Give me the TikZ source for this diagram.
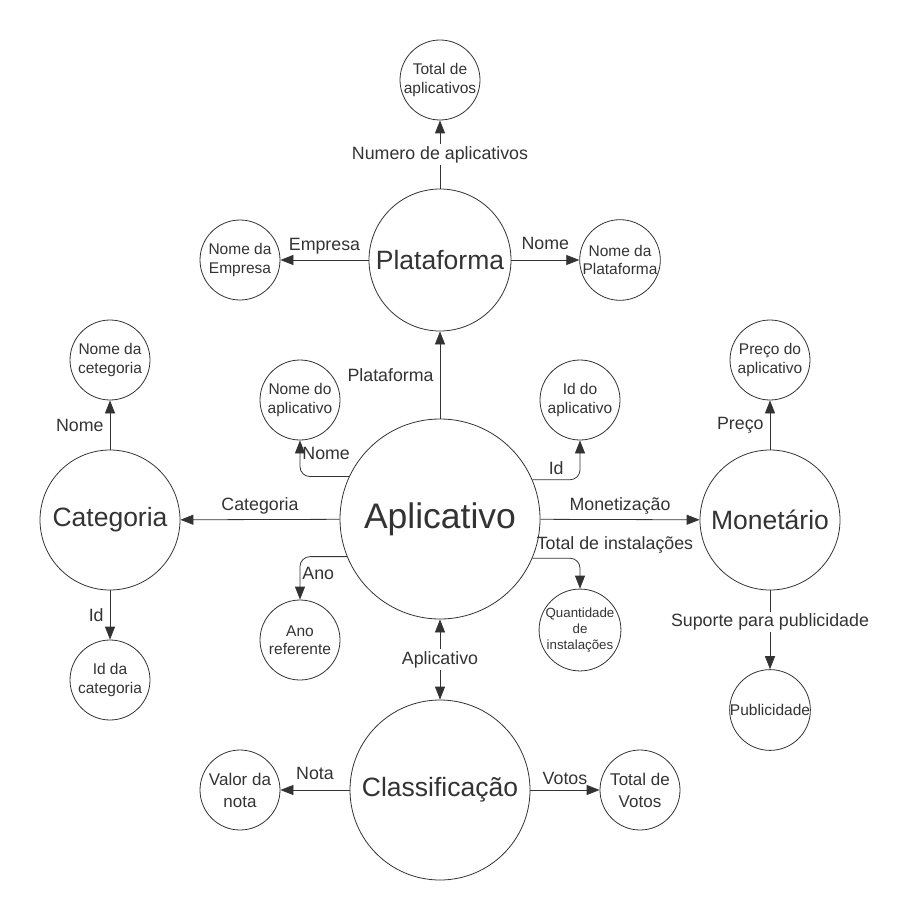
\documentclass[tikz,border=0pt]{standalone}
\usepackage{fontspec}
\setmainfont{Liberation Sans}
\usetikzlibrary{arrows.meta,positioning}
\definecolor{traco}{HTML}{333333}

\begin{document}
\begin{tikzpicture}[x=1pt,y=-1pt,
      entidade/.style={circle, draw=traco, line width=0.8pt, inner sep=0pt,
        text=traco, minimum size=140pt, font=\fontsize{26.5}{30}\selectfont},
      atributo/.style={circle, draw=traco, line width=0.8pt, inner sep=0pt,
        text=traco, minimum size=80pt, align=center,
        font=\fontsize{15.5}{18.3}\selectfont},
      rotulo/.style={text=traco, inner sep=2pt, font=\fontsize{17.8}{20}\selectfont},
      seta/.style={draw=traco, line width=0.8pt, -{Triangle[length=13pt,width=10pt]}},
      duasetas/.style={draw=traco, line width=0.8pt,
        {Triangle[length=13pt,width=10pt]}-{Triangle[length=13pt,width=10pt]}}]
        \useasboundingbox (0,0) rectangle (910,920);
        % entidades
        \node[entidade, minimum size=200pt, font=\fontsize{35.5}{40}\selectfont] (aplicativo) at (440,519) {Aplicativo};
        \node[entidade, minimum size=142pt] (plataforma) at (440,260) {Plataforma};
        \node[entidade] (categoria) at (110,520) {Categoria};
        \node[entidade] (monetario) at (770,520) {Monetário};
        \node[entidade, minimum size=180pt] (classificacao) at (440,790) {Classificação};
        % atributos
        \node[atributo] (totalapps) at (440,80) {Total de\\aplicativos};
        \node[atributo] (nomeempresa) at (240,260) {Nome da\\Empresa};
        \node[atributo] (nomeplat) at (620,260) {Nome da\\Plataforma};
        \node[atributo] (nomecat) at (110,360) {Nome da\\cetegoria};
        \node[atributo] (idcat) at (110,680) {Id da\\categoria};
        \node[atributo] (nomeapp) at (300,400) {Nome do\\aplicativo};
        \node[atributo] (idapp) at (580,400) {Id do\\aplicativo};
        \node[atributo] (anoref) at (300,640) {Ano\\referente};
        \node[atributo, font=\fontsize{13.3}{16}\selectfont] (qtdinst) at (580,630) {Quantidade\\de\\instalações};
        \node[atributo] (preco) at (770,360) {Preço do\\aplicativo};
        \node[atributo] (publicidade) at (770,710) {Publicidade};
        \node[atributo, font=\fontsize{17}{22}\selectfont] (valornota) at (240,790) {Valor da\\nota};
        \node[atributo, font=\fontsize{17}{22}\selectfont] (totalvotos) at (640,790) {Total de\\Votos};
        % ligacoes
        \draw[seta] (plataforma) -- node[rotulo, fill=white] {Numero de aplicativos} (totalapps);
        \draw[seta] (plataforma) -- node[rotulo, above=3pt] {Empresa} (nomeempresa);
        \draw[seta] (plataforma) -- node[rotulo, above=8pt] {Nome} (nomeplat);
        \draw[seta] (aplicativo) -- node[rotulo, left=4pt] {Plataforma} (plataforma);
        \draw[seta, rounded corners=10pt] (aplicativo.155) -| node[rotulo, pos=0.82, right] {Nome} (nomeapp.south);
        \draw[seta, rounded corners=10pt] (aplicativo.23) -| node[rotulo, pos=0.25, above=3pt] {Id} (idapp.south);
        \draw[seta] (aplicativo) -- node[rotulo, above=3pt] {Categoria} (categoria);
        \draw[seta] (aplicativo) -- node[rotulo, above=3pt] {Monetização} (monetario);
        \draw[seta, rounded corners=10pt] (aplicativo.202) -| node[rotulo, pos=0.7, right] {Ano} (anoref.north);
        \draw[seta, rounded corners=10pt] (aplicativo.-23) -| node[rotulo, pos=0, above right=3pt and 2pt] {Total de instalações} (qtdinst.north);
        \draw[duasetas] (aplicativo) -- node[rotulo, fill=white] {Aplicativo} (classificacao);
        \draw[seta] (categoria) -- node[rotulo, left=4pt] {Nome} (nomecat);
        \draw[seta] (categoria) -- node[rotulo, left=4pt] {Id} (idcat);
        \draw[seta] (monetario) -- node[rotulo, left=4pt] {Preço} (preco);
        \draw[seta] (monetario) -- node[rotulo, pos=0.4, fill=white] {Suporte para publicidade} (publicidade);
        \draw[seta] (classificacao) -- node[rotulo, above=8pt] {Nota} (valornota);
        \draw[seta] (classificacao) -- node[rotulo, above=3pt] {Votos} (totalvotos);
\end{tikzpicture}
\end{document}
